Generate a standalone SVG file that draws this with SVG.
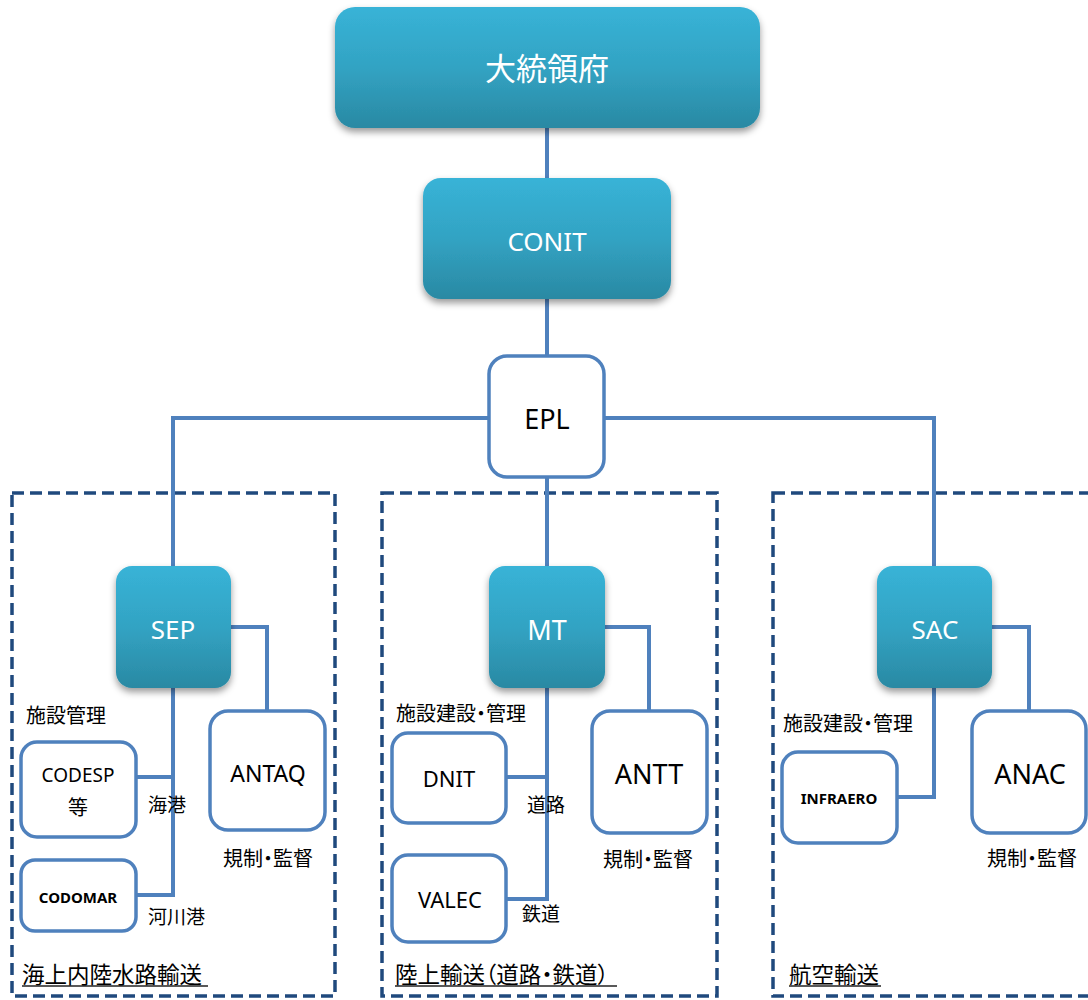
<svg xmlns="http://www.w3.org/2000/svg" width="1088" height="1000" viewBox="0 0 1088 1000">
<defs>
<linearGradient id="tg" x1="0" y1="0" x2="0" y2="1">
<stop offset="0" stop-color="#38B3D7"/>
<stop offset="0.5" stop-color="#32A3C3"/>
<stop offset="1" stop-color="#2A89A3"/>
</linearGradient>
<filter id="sh" x="-20%" y="-20%" width="140%" height="150%">
<feDropShadow dx="0" dy="4" stdDeviation="3.5" flood-color="#000" flood-opacity="0.4"/>
</filter>
</defs>
<style>
.dash{fill:none;stroke:#1F497D;stroke-width:3.5;stroke-dasharray:12 6}
.con{fill:none;stroke:#4F81BD;stroke-width:4}
.tb{fill:url(#tg);filter:url(#sh)}
.wb{fill:#fff;stroke:#4F81BD;stroke-width:3.5}
.wt{fill:#fff;font-family:"Noto Sans","Noto Sans CJK JP",sans-serif;text-anchor:middle;dominant-baseline:central}
.bt{fill:#000;font-family:"Noto Sans","Noto Sans CJK JP",sans-serif;text-anchor:middle;dominant-baseline:central}
.jp{fill:#000;font-family:"Noto Sans CJK JP",sans-serif;font-size:20px;dominant-baseline:central;font-feature-settings:"palt"}
.ul{stroke:#222;stroke-width:1.5}
</style>
<g id="areas">
<rect class="dash" x="12" y="493" width="323" height="503"/>
<rect class="dash" x="382" y="493" width="335" height="503"/>
<rect class="dash" x="773" y="493" width="330" height="503"/>
</g>
<g id="connectors">
<line class="con" x1="547" y1="126" x2="547" y2="180"/>
<line class="con" x1="547" y1="297" x2="547" y2="356"/>
<line class="con" x1="547" y1="476" x2="547" y2="567"/>
<line class="con" x1="171" y1="418" x2="936" y2="418"/>
<line class="con" x1="173" y1="416" x2="173" y2="567"/>
<line class="con" x1="934" y1="416" x2="934" y2="567"/>
<polyline class="con" points="231,627 267,627 267,712"/>
<polyline class="con" points="605,627 649,627 649,712"/>
<polyline class="con" points="992,627 1029,627 1029,712"/>
<line class="con" x1="173" y1="687" x2="173" y2="897"/>
<line class="con" x1="136" y1="777" x2="175" y2="777"/>
<line class="con" x1="136" y1="895" x2="175" y2="895"/>
<line class="con" x1="547" y1="687" x2="547" y2="901"/>
<line class="con" x1="506" y1="777" x2="549" y2="777"/>
<line class="con" x1="506" y1="899" x2="549" y2="899"/>
<polyline class="con" points="934,687 934,797 897,797"/>
</g>
<g id="n-president">
<rect class="tb" x="335" y="7" width="425" height="121" rx="20"/>
<text class="wt" x="547" y="68" style="font-size:31px">大統領府</text>
</g>
<g id="n-conit">
<rect class="tb" x="423" y="178" width="248" height="121" rx="18"/>
<text class="wt" x="547" y="241" style="font-size:26px">CONIT</text>
</g>
<g id="n-epl">
<rect class="wb" x="489" y="356" width="115" height="121" rx="18"/>
<text class="bt" x="547" y="418" style="font-size:27px">EPL</text>
</g>
<g id="n-sep">
<rect class="tb" x="116" y="566" width="115" height="122" rx="16"/>
<text class="wt" x="173" y="629" style="font-size:26px">SEP</text>
</g>
<g id="n-mt">
<rect class="tb" x="489" y="566" width="116" height="122" rx="16"/>
<text class="wt" x="547" y="629" style="font-size:27px">MT</text>
</g>
<g id="n-sac">
<rect class="tb" x="877" y="566" width="115" height="122" rx="16"/>
<text class="wt" x="935" y="629" style="font-size:26px">SAC</text>
</g>
<g id="n-antaq">
<rect class="wb" x="210" y="711" width="115" height="119" rx="18"/>
<text class="bt" x="268" y="773" style="font-size:23px">ANTAQ</text>
</g>
<g id="n-antt">
<rect class="wb" x="592" y="711" width="115" height="122" rx="18"/>
<text class="bt" x="649" y="773" style="font-size:27px">ANTT</text>
</g>
<g id="n-anac">
<rect class="wb" x="972" y="711" width="114" height="122" rx="18"/>
<text class="bt" x="1030" y="773" style="font-size:27px">ANAC</text>
</g>
<g id="n-codesp">
<rect class="wb" x="21" y="742" width="115" height="95" rx="16"/>
<text class="bt" x="78" y="775" style="font-size:19px">CODESP</text>
<text class="bt" x="78" y="806" style="font-size:20px;font-family:'Noto Sans CJK JP',sans-serif">等</text>
</g>
<g id="n-codomar">
<rect class="wb" x="21" y="860" width="115" height="71" rx="14"/>
<text class="bt" x="78" y="897" style="font-size:15px;font-weight:bold">CODOMAR</text>
</g>
<g id="n-dnit">
<rect class="wb" x="392" y="733" width="114" height="90" rx="16"/>
<text class="bt" x="449" y="778" style="font-size:22px">DNIT</text>
</g>
<g id="n-valec">
<rect class="wb" x="392" y="855" width="114" height="87" rx="16"/>
<text class="bt" x="450" y="899" style="font-size:22px">VALEC</text>
</g>
<g id="n-infraero">
<rect class="wb" x="782" y="752" width="115" height="91" rx="16"/>
<text class="bt" x="839" y="798" style="font-size:15px;font-weight:bold">INFRAERO</text>
</g>
<g id="labels">
<text class="jp" x="26" y="714">施設管理</text>
<text class="jp" x="396" y="712">施設建設・管理</text>
<text class="jp" x="783" y="722">施設建設・管理</text>
<text class="jp" x="268" y="857" text-anchor="middle">規制・監督</text>
<text class="jp" x="648" y="858" text-anchor="middle">規制・監督</text>
<text class="jp" x="1032" y="857" text-anchor="middle">規制・監督</text>
<text class="jp" x="148" y="803" style="font-size:19px">海港</text>
<text class="jp" x="148" y="915" style="font-size:19px">河川港</text>
<text class="jp" x="527" y="803" style="font-size:19px">道路</text>
<text class="jp" x="522" y="912" style="font-size:19px">鉄道</text>
<text class="jp" x="22" y="973" style="font-size:22.5px">海上内陸水路輸送</text>
<line class="ul" x1="22" y1="986" x2="208" y2="986"/>
<text class="jp" x="395" y="973" style="font-size:22.5px">陸上輸送（道路・鉄道）</text>
<line class="ul" x1="395" y1="986" x2="617" y2="986"/>
<text class="jp" x="789" y="973" style="font-size:22.5px">航空輸送</text>
<line class="ul" x1="789" y1="986" x2="881" y2="986"/>
</g>
</svg>
